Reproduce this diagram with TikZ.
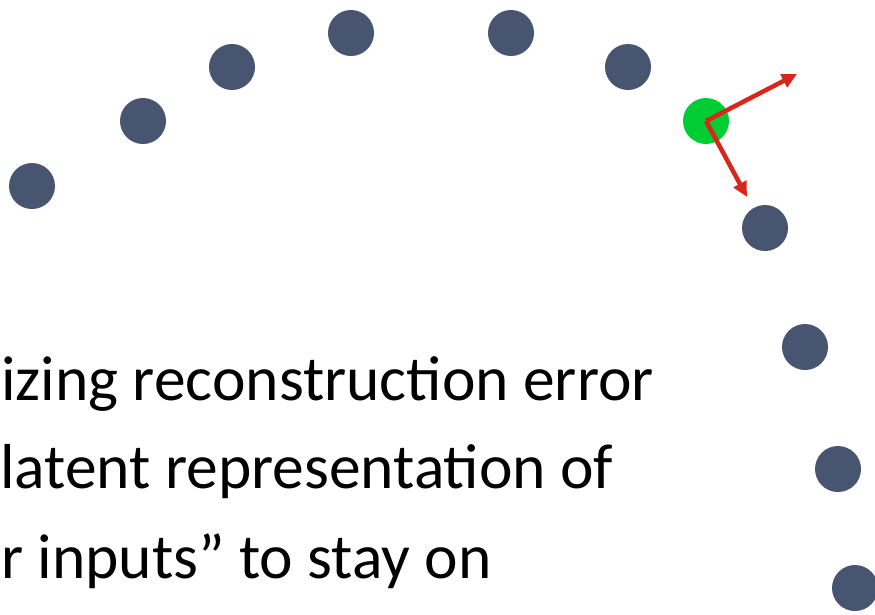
\documentclass[tikz,border=0pt]{standalone}
\usepackage{fontspec}
\setmainfont{Carlito}
\usetikzlibrary{arrows.meta}
\definecolor{dotblue}{HTML}{475571}
\definecolor{dotgreen}{HTML}{00CC33}
\definecolor{arrred}{HTML}{D9261C}
\tikzset{
  dot/.style={circle,fill=dotblue,inner sep=0pt,minimum size=46pt},
  gdot/.style={circle,fill=dotgreen,inner sep=0pt,minimum size=46pt},
  vec/.style={draw=arrred,line width=4.5pt,-{Triangle[length=15pt,width=14pt]}},
  txt/.style={anchor=base west,inner sep=0pt,font=\fontsize{63.5}{88}\selectfont}
}
\begin{document}
\begin{tikzpicture}[x=1pt,y=-1pt]
\useasboundingbox (0,0) rectangle (875,614);
\clip (0,0) rectangle (875,614);
\node[dot] (d1) at (32,186) {};
\node[dot] (d2) at (143,121) {};
\node[dot] (d3) at (232,67) {};
\node[dot] (d4) at (351,33) {};
\node[dot] (d5) at (511,33) {};
\node[dot] (d6) at (628,67) {};
\node[gdot] (g) at (706,121) {};
\node[dot] (d7) at (765,228) {};
\node[dot] (d8) at (805,347) {};
\node[dot] (d9) at (838,469) {};
\node[dot] (d10) at (855,588) {};
\coordinate (t1) at (797,74);
\coordinate (t2) at (747,197);
\draw[vec] (g.center) -- (t1);
\draw[vec] (g.center) -- (t2);
\node[txt] (l1) at (1,400) {izing reconstruction error};
\node[txt] (l2) at (0,488) {latent representation of};
\node[txt] (l3) at (1,578) {r inputs” to stay on};
\end{tikzpicture}
\end{document}
